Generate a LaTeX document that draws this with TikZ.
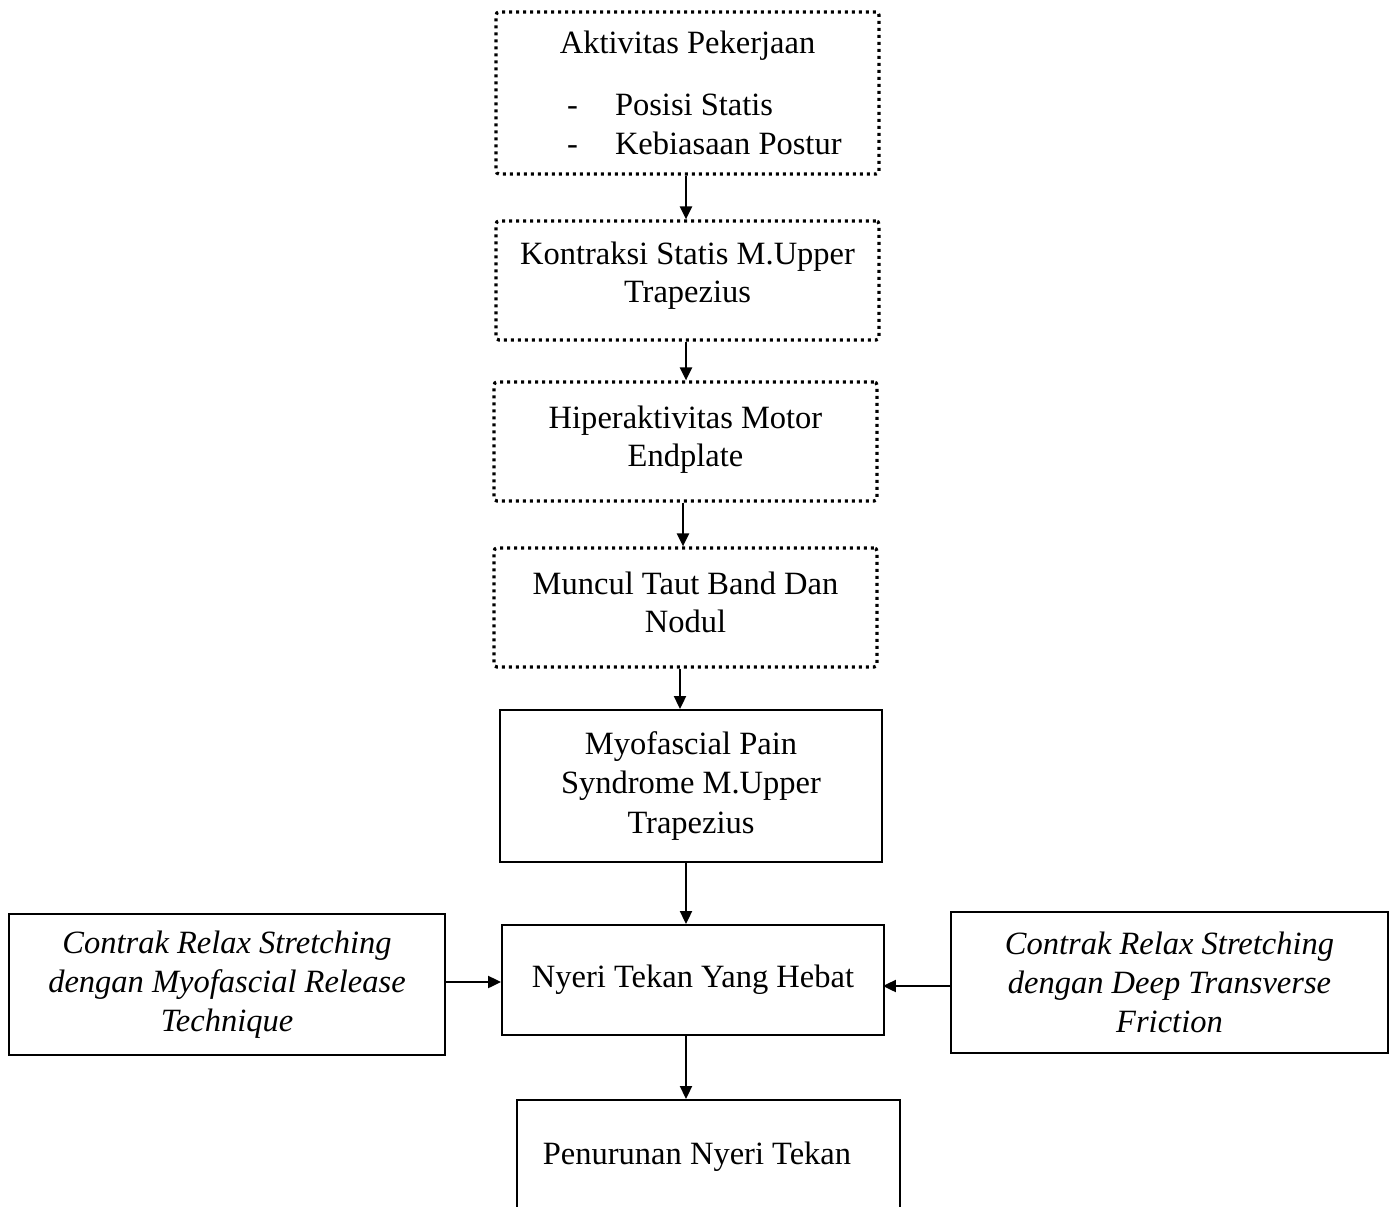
\documentclass[tikz,border=0pt]{standalone}
\usepackage{fontspec}
\setmainfont{Liberation Serif}
\usetikzlibrary{arrows.meta}
\tikzset{
  dotbox/.style={draw, line width=0.065cm, dash pattern=on 0.06cm off 0.08cm, rounded corners=0.06cm,
    align=center, inner sep=0pt, font=\fontsize{18.5}{22}\selectfont},
  solidbox/.style={draw, line width=0.04cm, align=center, inner sep=0pt, font=\fontsize{18.5}{22.3}\selectfont},
  itbox/.style={solidbox, font=\fontsize{18.5}{22.3}\selectfont\itshape},
  arr/.style={line width=0.045cm, -{Triangle[length=0.26cm,width=0.24cm]}}
}
\begin{document}
\begin{tikzpicture}[x=0.02cm,y=-0.02cm]
\useasboundingbox (0,0) rectangle (1394,1207);
\clip (0,0) rectangle (1394,1207);
\node[dotbox, minimum width=7.66cm, minimum height=3.24cm] (b1) at (687.5,93)
  {Aktivitas Pekerjaan\\[0.46cm]
   \makebox[4.82cm][l]{\makebox[0.96cm][l]{-}Posisi Statis}\\
   \makebox[4.82cm][l]{\makebox[0.96cm][l]{-}Kebiasaan Postur}};
\node[dotbox, minimum width=7.66cm, minimum height=2.38cm] (b2) at (687.5,280.5)
  {Kontraksi Statis M.Upper\\Trapezius\\[-0.44cm]};
\node[dotbox, minimum width=7.66cm, minimum height=2.38cm] (b3) at (685.5,441.5)
  {Hiperaktivitas Motor\\Endplate\\[-0.56cm]};
\node[dotbox, minimum width=7.66cm, minimum height=2.38cm] (b4) at (685.5,607.5)
  {Muncul Taut Band Dan\\Nodul\\[-0.56cm]};
\node[solidbox, minimum width=7.64cm, minimum height=3.04cm] (b5) at (691,786)
  {Myofascial Pain\\Syndrome M.Upper\\Trapezius};
\node[solidbox, minimum width=7.64cm, minimum height=2.2cm] (b6) at (693,980)
  {Nyeri Tekan Yang Hebat};
\node[itbox, minimum width=8.72cm, minimum height=2.82cm] (lt) at (227,984.5)
  {Contrak Relax Stretching\\dengan Myofascial Release\\Technique};
\node[itbox, minimum width=8.74cm, minimum height=2.82cm] (rt) at (1169.5,982.5)
  {Contrak Relax Stretching\\dengan Deep Transverse\\Friction};
\node[solidbox, minimum width=7.66cm, anchor=north, inner ysep=0.5cm,
      text height=0.8cm, text depth=1cm] (b7) at (708.5,1099)
  {\hspace*{-0.46cm}Penurunan Nyeri Tekan};
\draw[arr] ([xshift=-0.03cm]b1.south) -- ([xshift=-0.03cm]b1.south |- b2.north);
\draw[arr] ([xshift=-0.03cm]b2.south) -- ([xshift=-0.03cm]b2.south |- b3.north);
\draw[arr] ([xshift=-0.05cm]b3.south) -- ([xshift=-0.05cm]b3.south |- b4.north);
\draw[arr] ([xshift=-0.11cm]b4.south) -- ([xshift=-0.11cm]b4.south |- b5.north);
\draw[arr] ([xshift=-0.1cm]b5.south) -- ([xshift=-0.1cm]b5.south |- b6.north);
\draw[arr] ([xshift=-0.14cm]b6.south) -- ([xshift=-0.14cm]b6.south |- b7.north);
\draw[arr] ([yshift=0.05cm]lt.east) -- ([yshift=0.05cm]lt.east -| b6.west);
\draw[arr] ([yshift=-0.07cm]rt.west) -- ([yshift=-0.07cm,xshift=-0.04cm]rt.west -| b6.east);
\end{tikzpicture}
\end{document}
